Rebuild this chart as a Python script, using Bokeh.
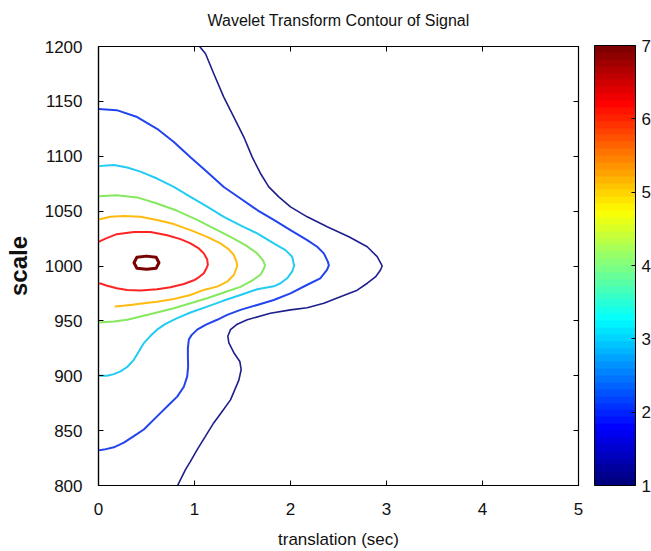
import numpy as np
from bokeh.plotting import figure
from bokeh.models import (LinearAxis, ColorBar, LinearColorMapper, FixedTicker, Range1d,
                          CustomJSTickFormatter)
from bokeh.embed import file_html
from bokeh.resources import INLINE

# ---- data ----
title_text = "Wavelet Transform Contour of Signal"
x_label = "translation (sec)"
y_label = "scale"
x_ticks = [0, 1, 2, 3, 4, 5]
y_ticks = [800, 850, 900, 950, 1000, 1050, 1100, 1150, 1200]
cbar_ticks = [1, 2, 3, 4, 5, 6, 7]

levels = [1, 2, 3, 4, 5, 6, 7]
level_colors = ["#1e1e8c", "#2244ee", "#22ccf2", "#86e85e", "#ffbb10", "#ff2424", "#7a0000"]

c1_t = [1.045, 1.115, 1.201, 1.305, 1.41, 1.514, 1.60, 1.6875, 1.774, 1.878, 2.0, 2.174, 2.382,
        2.608, 2.799, 2.903, 2.944, 2.955, 2.9375, 2.885, 2.80, 2.695, 2.52, 2.347, 2.174, 2.0,
        1.79, 1.549, 1.445, 1.375, 1.347, 1.358, 1.41, 1.472, 1.486, 1.462, 1.375, 1.288, 1.2,
        1.115, 1.028, 0.958, 0.906, 0.8125]
c1_s = [1200.9, 1193.4, 1175.2, 1153.9, 1135.7, 1117.5, 1099.4, 1084.3, 1072.1, 1063, 1053.9,
        1044.8, 1035.7, 1026.6, 1017.5, 1008.5, 1002, 1000, 996.4, 990, 984.3, 978, 972, 966,
        962, 960, 957, 951, 947, 942, 936, 930, 921, 913, 905.5, 896, 878, 867.5, 857, 845,
        832.7, 822, 814.5, 798]

c2_t = [0, 0.19, 0.403, 0.61, 0.785, 0.958, 1.132, 1.305, 1.479, 1.653, 1.826, 2.0, 2.174, 2.278,
        2.347, 2.389, 2.40, 2.38, 2.31, 2.17, 2.0, 1.826, 1.653, 1.479, 1.34, 1.236, 1.115, 1.028,
        0.969, 0.941, 0.931, 0.931, 0.934, 0.924, 0.889, 0.82, 0.733, 0.61, 0.472, 0.368, 0.264,
        0.16, 0.056, 0]
c2_s = [1143, 1142, 1135.7, 1125, 1113, 1099, 1085.7, 1072, 1061.5, 1051, 1042, 1032.7, 1023.6,
        1017.5, 1011.5, 1004, 1000.5, 996.4, 988.8, 982.7, 975, 969, 964.5, 960, 955.5, 951,
        946.4, 942, 937, 933, 925, 917.5, 908.5, 899.4, 890, 881, 873.6, 863, 851, 845, 839,
        834.8, 832.7, 832]

c3_t = [0, 0.16, 0.299, 0.4375, 0.61, 0.785, 0.958, 1.132, 1.305, 1.479, 1.653, 1.826, 1.948,
        2.017, 2.038, 2.017, 1.965, 1.896, 1.826, 1.653, 1.479, 1.305, 1.132, 0.958, 0.82, 0.698,
        0.61, 0.542, 0.472, 0.42, 0.368, 0.299, 0.229, 0.16, 0.09, 0]
c3_s = [1091, 1092, 1089.7, 1086, 1079.7, 1072, 1063, 1054, 1044.8, 1037, 1029.7, 1020.6, 1014.5,
        1008.5, 1000.5, 994.8, 988.8, 984.3, 981.5, 978.8, 973.6, 968.5, 963, 957.6, 952.5,
        947.3, 942, 936.4, 929.7, 922, 914.5, 908, 904, 901.5, 900, 900]

c4_t = [0, 0.19, 0.403, 0.61, 0.82, 1.028, 1.201, 1.375, 1.531, 1.653, 1.715, 1.735, 1.72,
        1.6875, 1.60, 1.479, 1.305, 1.132, 0.958, 0.785, 0.61, 0.4375, 0.299, 0.16, 0]
c4_s = [1063.6, 1064.5, 1062.5, 1057, 1050.3, 1042, 1034.2, 1026.6, 1019, 1011.5, 1004.8, 1000.5,
        997, 992, 986.7, 981, 975.8, 970.6, 966, 961.5, 957.6, 954, 951, 949.4, 948.5]

c5_t = [0, 0.125, 0.264, 0.4375, 0.61, 0.785, 0.958, 1.132, 1.27, 1.358, 1.41, 1.4375, 1.445,
        1.41, 1.34, 1.236, 1.097, 0.958, 0.785, 0.61, 0.472, 0.333, 0.177]
c5_s = [1042.4, 1044.8, 1045.5, 1044.8, 1042, 1038.2, 1032.7, 1026.6, 1020.6, 1015.2, 1010, 1004,
        1000, 991.8, 985.7, 981.2, 978.2, 973.6, 970, 967.5, 966, 964.5, 963]

c6_t = [0, 0.073, 0.19, 0.368, 0.542, 0.716, 0.854, 0.958, 1.045, 1.097, 1.132, 1.139, 1.125,
        1.097, 1.045, 0.993, 0.889, 0.75, 0.61, 0.4375, 0.299, 0.19, 0.09, 0.02, 0]
c6_s = [1022, 1025, 1029, 1031, 1030.9, 1028, 1024.5, 1020.6, 1016, 1011.5, 1006, 1001, 998,
        993.4, 989.7, 987, 983.6, 980.6, 978.8, 977.6, 978.2, 979.7, 982, 984, 984]

c7_t = [0.37, 0.40, 0.50, 0.60, 0.63, 0.60, 0.50, 0.40, 0.37]
c7_s = [1003, 1008, 1009, 1008, 1003, 998, 997, 998, 1003]

contours_t = [c1_t, c2_t, c3_t, c4_t, c5_t, c6_t, c7_t]
contours_s = [c1_s, c2_s, c3_s, c4_s, c5_s, c6_s, c7_s]
line_widths = [1.6, 2, 2, 2, 2, 2, 3]

FONT = "Liberation Sans"

p = figure(width=651, height=551, x_range=Range1d(0, 5), y_range=Range1d(800, 1200),
           output_backend="svg", toolbar_location=None, title=None,
           min_border_left=98, min_border_right=73, min_border_top=46, min_border_bottom=65)

p.grid.visible = False
p.outline_line_color = "black"
p.outline_line_width = 1.2
p.background_fill_color = "white"
p.border_fill_color = "white"

for ax in (p.xaxis[0], p.yaxis[0]):
    ax.major_tick_in = 5
    ax.major_tick_out = 0
    ax.minor_tick_line_color = None
    ax.axis_line_color = "black"
    ax.axis_line_width = 1.2
    ax.major_tick_line_color = "black"
    ax.major_label_text_font = FONT
    ax.major_label_text_font_size = "17px"
    ax.major_label_text_color = "#111111"
    ax.axis_label_text_font = FONT
    ax.axis_label_text_color = "#111111"

p.xaxis[0].ticker = FixedTicker(ticks=x_ticks)
p.yaxis[0].ticker = FixedTicker(ticks=y_ticks)
p.xaxis[0].axis_label = x_label
p.xaxis[0].axis_label_text_font_size = "17px"
p.xaxis[0].axis_label_text_font_style = "normal"
p.xaxis[0].major_label_standoff = 17
p.xaxis[0].axis_label_standoff = 12
p.yaxis[0].axis_label = y_label
p.yaxis[0].axis_label_text_font_size = "24px"
p.yaxis[0].axis_label_text_font_style = "bold"
p.yaxis[0].major_label_standoff = 16
p.yaxis[0].axis_label_standoff = 10

# ticks on the top and right of the box (no tick labels); the top axis carries the title
blank = CustomJSTickFormatter(code="return ''")
top_ax = LinearAxis(ticker=FixedTicker(ticks=x_ticks), major_tick_in=5, major_tick_out=0,
                    minor_tick_line_color=None, formatter=blank,
                    major_label_standoff=0, axis_line_color="black",
                    axis_label=title_text, axis_label_standoff=18,
                    axis_label_text_font=FONT, axis_label_text_font_size="16px",
                    axis_label_text_font_style="normal", axis_label_text_color="#111111")
right_ax = LinearAxis(ticker=FixedTicker(ticks=y_ticks), major_tick_in=5, major_tick_out=0,
                      minor_tick_line_color=None, formatter=blank,
                      major_label_standoff=0, axis_line_color="black")
p.add_layout(top_ax, "above")
p.add_layout(right_ax, "right")

for t, s, c, w in zip(contours_t, contours_s, level_colors, line_widths):
    p.line(t, s, line_color=c, line_width=w, line_join="round", line_cap="round")

# jet colormap
jet = []
for i in range(64):
    f = i / 63
    r = min(max(1.5 - abs(4 * f - 3), 0), 1)
    g = min(max(1.5 - abs(4 * f - 2), 0), 1)
    b = min(max(1.5 - abs(4 * f - 1), 0), 1)
    jet.append("#%02x%02x%02x" % (int(r * 255), int(g * 255), int(b * 255)))

mapper = LinearColorMapper(palette=jet, low=min(cbar_ticks), high=max(cbar_ticks))
cbar = ColorBar(color_mapper=mapper, ticker=FixedTicker(ticks=cbar_ticks),
                location=(496, 0), width=41, height=440, padding=0, margin=0,
                bar_line_color="black", major_tick_line_color="black",
                major_tick_in=4, major_tick_out=0, minor_tick_line_color=None,
                label_standoff=6, major_label_text_font=FONT,
                major_label_text_font_size="17px", major_label_text_color="#111111",
                background_fill_color=None, border_line_color=None)
p.add_layout(cbar)

open("out.html", "w").write(file_html(p, INLINE))
